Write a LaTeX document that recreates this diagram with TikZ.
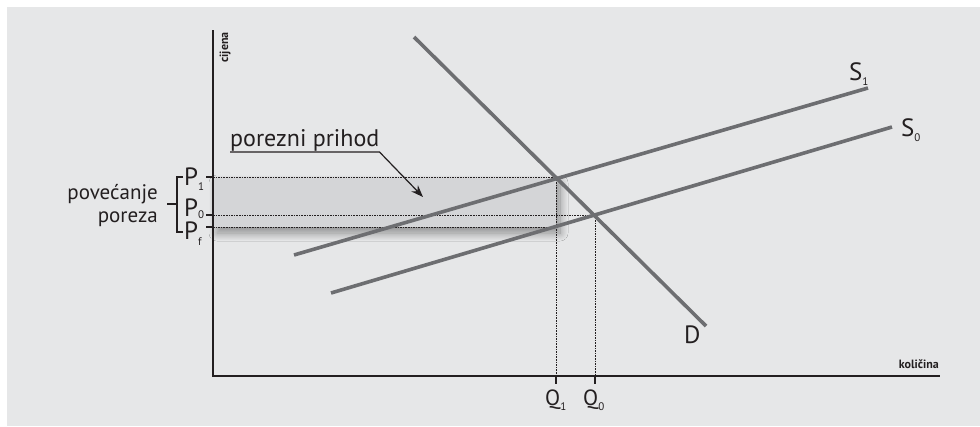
\documentclass[tikz,border=0pt]{standalone}
\usepackage{fontspec}
\setmainfont{PT Sans}
\usetikzlibrary{arrows.meta,positioning,shadows.blur}
\definecolor{pozadina}{HTML}{E6E7E8}
\definecolor{povrsina}{HTML}{D4D5D7}
\definecolor{siva}{HTML}{6D6E71}
\definecolor{tamna}{HTML}{231F20}
\newcommand{\ind}[2][-5pt]{\raisebox{#1}{\fontsize{11}{11}\selectfont #2}}
\tikzset{
  krivulja/.style={line width=3.6pt, draw=siva},
  os/.style={line width=1.4pt, draw=tamna},
  crtkana/.style={line width=0.8pt, draw=tamna, dash pattern=on 1.6pt off 1pt},
  crtica/.style={line width=1.2pt, draw=tamna},
  oznaka/.style={font=\fontsize{25}{25}\selectfont, inner sep=0pt, text=tamna},
  tekst/.style={font=\fontsize{21}{24}\selectfont, inner sep=0pt, text=tamna},
  osnaziv/.style={font=\fontsize{12}{12}\selectfont\bfseries, inner sep=0pt, text=tamna},
  strelica/.style={-{Stealth[length=12pt,width=9pt]}, line width=1.2pt, draw=tamna}
}

\begin{document}
\begin{tikzpicture}[x=1pt,y=-1pt]
\useasboundingbox (0,0) rectangle (980,426);
\fill[pozadina] (7,7) rectangle (980,426);

% osi
\coordinate (O) at (213,376);
\coordinate (yvrh) at (213,30);
\coordinate (xkraj) at (940,376);

% krivulje
\coordinate (D1) at (414,37);
\coordinate (D2) at (706,326);
\coordinate (S1a) at (294,255);
\coordinate (S1b) at (868,88);
\coordinate (S0a) at (331,293);
\coordinate (S0b) at (892,127);

% ravnoteze
\coordinate (E1) at (556,177);
\coordinate (E0) at (595,215);
\coordinate (Ef) at (556,227);

% porezni prihod
\fill[povrsina, blur shadow={shadow xshift=4pt, shadow yshift=-6pt, shadow blur steps=20, shadow blur radius=8pt, shadow opacity=40}]
  (213,177) rectangle (556,227);

\draw[crtkana] (213,177) -- (E1);
\draw[crtkana] (213,215) -- (E0);
\draw[crtkana] (213,227) -- (Ef);
\draw[crtkana] (E1) -- (556,376);
\draw[crtkana] (E0) -- (595,376);
\draw[crtica] (206,177) -- (213,177);
\draw[crtica] (206,215) -- (213,215);
\draw[crtica] (206,227) -- (213,227);
\draw[crtica] (556,376) -- (556,384);
\draw[crtica] (595,376) -- (595,384);

\draw[os] (yvrh) -- (O) -- (xkraj);

\draw[krivulja] (D1) -- (D2);
\draw[krivulja] (S1a) -- (S1b);
\draw[krivulja] (S0a) -- (S0b);

% oznake
\node[osnaziv, rotate=90, anchor=base east] (cij) at (228,32) {cijena};
\node[osnaziv, anchor=base east] (kol) at (939,368) {količina};
\node[oznaka, anchor=base west] (lD) at (684,343) {D};
\node[oznaka, anchor=base west] (lS1) at (849,80) {S\ind{1}};
\node[oznaka, anchor=base west] (lS0) at (901,136) {S\ind{0}};
\node[oznaka, font=\fontsize{22}{22}\selectfont, anchor=base west] (lQ1) at (545,405) {Q\ind{1}};
\node[oznaka, font=\fontsize{22}{22}\selectfont, anchor=base west] (lQ0) at (583,405) {Q\ind{0}};
\node[oznaka, anchor=base west] (lP1) at (184,185) {P\ind{1}};
\node[oznaka, anchor=base west] (lP0) at (184,216) {P\ind[-2pt]{0}};
\node[oznaka, anchor=base west] (lPf) at (184,239) {P\ind[-6pt]{f}};

% zagrada
\draw[crtica] (183,177) -- (177,177) -- (177,232) -- (183,232);
\draw[crtica] (167,204) -- (177,204);
\node[tekst, anchor=base east] (pov) at (158,199) {povećanje};
\node[tekst, anchor=base east] (por) at (158,222) {poreza};

% porezni prihod
\node[tekst, font=\fontsize{24}{24}\selectfont, anchor=base west] (ph) at (230,146) {porezni prihod};
\coordinate (vrh) at (423,197);
\draw[strelica] ([yshift=-6pt]ph.base west) -- ([yshift=-6pt]ph.base east) -- (vrh);
\end{tikzpicture}
\end{document}
